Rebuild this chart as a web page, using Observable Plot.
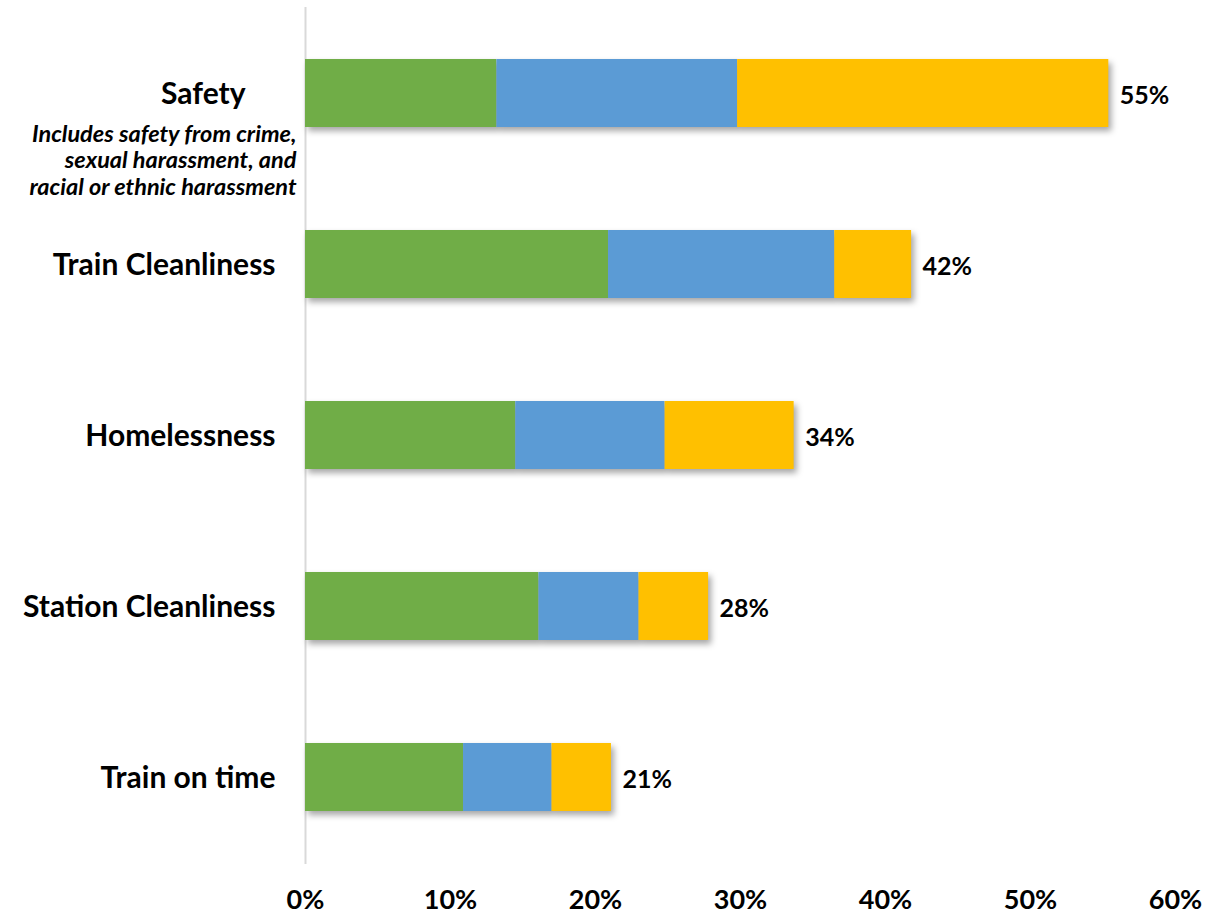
<!DOCTYPE html>
<html><head><meta charset="utf-8">
<script src="https://cdn.jsdelivr.net/npm/d3@7"></script>
<script src="https://cdn.jsdelivr.net/npm/@observablehq/plot@0.6"></script>
<style>
body{margin:0;background:#fff}
.bars{filter:drop-shadow(3px 4px 3px rgba(0,0,0,0.35));}
</style>
</head><body><div id="chart"></div>
<script>
const categories = ["Safety","Train Cleanliness","Homelessness","Station Cleanliness","Train on time"];
const series = ["Part 1","Part 2","Part 3"];
const green = [13.2, 20.9, 14.5, 16.1, 10.9];
const blue = [16.6, 15.6, 10.3, 6.9, 6.1];
const yellow = [25.6, 5.3, 8.9, 4.8, 4.1];
const totalLabels = ["55%","42%","34%","28%","21%"];
const safetyNote = ["Includes safety from crime,","sexual harassment, and","racial or ethnic harassment"];
const xTicks = [0,10,20,30,40,50,60];
const colors = ["#70AD47","#5B9BD5","#FFC000"];

const rows = [];
categories.forEach((c,i) => {
  [green, blue, yellow].forEach((arr,j) => rows.push({category:c, series:series[j], value:arr[i]}));
});
const totals = categories.map((c,i) => ({category:c, total: green[i]+blue[i]+yellow[i], label: totalLabels[i]}));
const others = categories.slice(1).map(c => ({category:c}));

const chart = Plot.plot({
  width: 1211, height: 920,
  marginLeft: 305, marginRight: 36, marginTop: 7, marginBottom: 56,
  style: {fontFamily: "Lato, sans-serif", color: "#000", background: "#fff"},
  x: {domain: [0,60], axis: null},
  y: {domain: categories, paddingInner: 0.6, paddingOuter: 0.3, axis: null},
  color: {domain: series, range: colors},
  marks: [
    Plot.ruleX([0], {stroke: "#d9d9d9", strokeWidth: 2}),
    Plot.barX(rows, Plot.stackX({y: "category", x: "value", fill: "series", order: series, className: "bars"})),
    Plot.text(totals, {y: "category", x: "total", text: "label", textAnchor: "start", dx: 11, dy: 2, fontSize: 25, fontWeight: "bold"}),
    Plot.text(others, {y: "category", x: 0, text: "category", textAnchor: "end", dx: -30, dy: 1, fontSize: 30, fontWeight: "bold"}),
    Plot.text([categories[0]], {y: d => d, x: 0, text: d => d, textAnchor: "end", dx: -60, dy: 1, fontSize: 30, fontWeight: "bold"}),
    Plot.text([safetyNote.join("\n")], {y: () => categories[0], x: 0, text: d => d, textAnchor: "end", dx: -9, dy: 66.5, lineAnchor: "middle", lineHeight: 1.12, fontSize: 23.5, fontWeight: "bold", fontStyle: "italic"}),
    Plot.axisX({ticks: xTicks, tickSize: 0, tickPadding: 25, tickFormat: d => d + "%", fontSize: 27, fontWeight: "bold", anchor: "bottom"})
  ]
});
document.getElementById("chart").appendChild(chart);
</script>
</body></html>
